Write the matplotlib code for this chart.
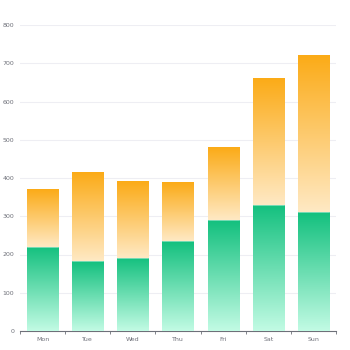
import numpy as np
import matplotlib
matplotlib.use("Agg")
import matplotlib.pyplot as plt
from matplotlib.colors import LinearSegmentedColormap

# ── Data ───────────────────────────────────────────────────────────────────
days = ["Mon", "Tue", "Wed", "Thu", "Fri", "Sat", "Sun"]
green_vals = [220, 182, 191, 234, 290, 330, 310]
orange_vals = [150, 232, 201, 154, 190, 330, 410]
y_ticks = [0, 100, 200, 300, 400, 500, 600, 700, 800]

# ── Styles ─────────────────────────────────────────────────────────────────
green_cmap = LinearSegmentedColormap.from_list("g", ["#c2fbe4", "#13c07e"])
orange_cmap = LinearSegmentedColormap.from_list("o", ["#ffe9c4", "#fbab17"])
BAR_W = 0.69
grad = np.linspace(0, 1, 256).reshape(-1, 1)

fig = plt.figure(figsize=(3.5, 3.5), dpi=100)
ax = fig.add_axes([20 / 350, 19 / 350, 316 / 350, 306 / 350])
ax.set_xlim(-0.5, len(days) - 0.5)
ax.set_ylim(0, 800)

for i, (g, o) in enumerate(zip(green_vals, orange_vals)):
    x0, x1 = i - BAR_W / 2, i + BAR_W / 2
    ax.imshow(grad, cmap=green_cmap, origin="lower", aspect="auto",
              extent=[x0, x1, 0, g], zorder=3, interpolation="bilinear")
    ax.imshow(grad, cmap=orange_cmap, origin="lower", aspect="auto",
              extent=[x0, x1, g, g + o], zorder=3, interpolation="bilinear")
    ax.plot([x0, x1], [g, g], color="#ffffff", lw=0.5, alpha=0.6, zorder=4)

ax.set_xlim(-0.5, len(days) - 0.5)
ax.set_ylim(0, 800)

# grid & spines
ax.set_yticks(y_ticks)
ax.yaxis.grid(True, color="#eeeef3", lw=0.8, zorder=0)
ax.set_axisbelow(True)
for s in ["top", "right", "left"]:
    ax.spines[s].set_visible(False)
ax.spines["bottom"].set_color("#6e7079")
ax.spines["bottom"].set_linewidth(0.8)

ax.set_xticks(range(len(days)))
ax.set_xticklabels(days)
ax.set_xticks(np.arange(-0.5, len(days)), minor=True)
ax.tick_params(axis="x", which="major", length=0, pad=4, labelsize=4.5,
               labelcolor="#6e7079")
ax.tick_params(axis="x", which="minor", length=2.5, width=0.6, color="#6e7079")
ax.tick_params(axis="y", length=0, pad=4, labelsize=4.5, labelcolor="#6e7079")

fig.savefig("out.png", dpi=100)
